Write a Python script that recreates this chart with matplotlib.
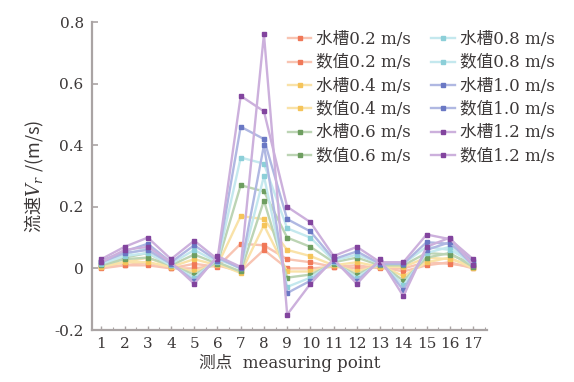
import matplotlib
matplotlib.use("Agg")
import matplotlib.pyplot as plt
from matplotlib.ticker import MultipleLocator

plt.rcParams['font.family'] = ['DejaVu Serif', 'Noto Sans CJK SC']
plt.rcParams['mathtext.fontset'] = 'custom'
plt.rcParams['mathtext.rm'] = 'Noto Sans CJK SC'
plt.rcParams['mathtext.it'] = 'DejaVu Serif:italic'
plt.rcParams['mathtext.bf'] = 'DejaVu Serif:bold'

points = list(range(1, 18))
x_ticklabels = [str(p) for p in points]
y_ticks = [-0.2, 0.0, 0.2, 0.4, 0.6, 0.8]
y_ticklabels = ["-0.2", "0", "0.2", "0.4", "0.6", "0.8"]

speeds = ["0.2", "0.4", "0.6", "0.8", "1.0", "1.2"]

# flume (水槽) measurements
flume_02 = [0.005, 0.01, 0.02, 0.0, 0.015, 0.005, 0.08, 0.075, 0.03, 0.02, 0.005, 0.01, 0.0, 0.0, 0.02, 0.015, 0.005]
flume_04 = [0.01, 0.02, 0.035, 0.005, 0.03, 0.01, 0.17, 0.16, 0.06, 0.04, 0.01, 0.02, 0.005, 0.005, 0.035, 0.03, 0.01]
flume_06 = [0.015, 0.035, 0.05, 0.01, 0.045, 0.015, 0.27, 0.25, 0.10, 0.07, 0.02, 0.035, 0.01, 0.01, 0.05, 0.045, 0.015]
flume_08 = [0.02, 0.045, 0.065, 0.015, 0.06, 0.02, 0.36, 0.34, 0.13, 0.10, 0.025, 0.045, 0.015, 0.015, 0.07, 0.06, 0.02]
flume_10 = [0.025, 0.055, 0.08, 0.02, 0.075, 0.025, 0.46, 0.42, 0.16, 0.12, 0.03, 0.055, 0.015, 0.015, 0.085, 0.08, 0.025]
flume_12 = [0.03, 0.07, 0.10, 0.03, 0.09, 0.03, 0.56, 0.51, 0.20, 0.15, 0.04, 0.07, 0.02, 0.02, 0.11, 0.095, 0.03]

# numerical (数值) results
num_02 = [0.0, 0.01, 0.01, 0.0, 0.0, 0.01, -0.01, 0.06, 0.0, 0.0, 0.005, 0.0, 0.005, -0.01, 0.01, 0.02, 0.0]
num_04 = [0.005, 0.02, 0.02, 0.005, -0.01, 0.015, -0.015, 0.14, -0.01, -0.01, 0.01, -0.01, 0.01, -0.025, 0.02, 0.035, 0.0]
num_06 = [0.01, 0.03, 0.035, 0.01, -0.02, 0.02, -0.01, 0.22, -0.03, -0.02, 0.015, -0.02, 0.015, -0.04, 0.035, 0.05, 0.005]
num_08 = [0.015, 0.04, 0.05, 0.01, -0.03, 0.03, 0.0, 0.30, -0.06, -0.03, 0.02, -0.03, 0.02, -0.055, 0.05, 0.07, 0.01]
num_10 = [0.02, 0.05, 0.06, 0.015, -0.04, 0.035, 0.0, 0.40, -0.08, -0.04, 0.025, -0.04, 0.025, -0.07, 0.06, 0.085, 0.01]
num_12 = [0.02, 0.06, 0.07, 0.02, -0.05, 0.04, 0.005, 0.76, -0.15, -0.05, 0.03, -0.05, 0.03, -0.09, 0.07, 0.10, 0.01]

flume = [flume_02, flume_04, flume_06, flume_08, flume_10, flume_12]
numer = [num_02, num_04, num_06, num_08, num_10, num_12]

marker_colors = ['#f07858', '#f5c45a', '#6e9e60', '#8ccfd8', '#6a78c4', '#82449e']
line_colors = ['#f8c4b2', '#f9e2a8', '#bcd4b4', '#c4e8ee', '#b0b8e2', '#ccb0dc']

fig = plt.figure(figsize=(5.74, 3.82), dpi=100)
ax = fig.add_axes([92/574, 52/382, (487-92)/574, (330-22)/382])

for i, s in enumerate(speeds):
    for kind, data in (("水槽", flume[i]), ("数值", numer[i])):
        ax.plot(points, data, color=line_colors[i], lw=1.7, marker='s', ms=3.2,
                mfc=marker_colors[i], mec=marker_colors[i], zorder=2 + i,
                label=f"{kind}{s} m/s")

ax.set_xlim(0.6, 17.6)
ax.set_ylim(-0.2, 0.8)
ax.set_xticks(points)
ax.set_xticklabels(x_ticklabels)
ax.xaxis.set_minor_locator(MultipleLocator(0.5))
ax.set_yticks(y_ticks)
ax.set_yticklabels(y_ticklabels)

for side in ('top', 'right'):
    ax.spines[side].set_visible(False)
for side in ('left', 'bottom'):
    ax.spines[side].set_color('#aaa4a4')
    ax.spines[side].set_linewidth(1.6)

tc = '#3c3838'
ax.tick_params(axis='both', which='both', direction='in', colors='#aaa4a4', labelcolor=tc)
ax.tick_params(axis='y', which='major', length=4, width=1.2, pad=6, labelsize=11)
ax.tick_params(axis='x', which='major', length=3, width=1.0, pad=5, labelsize=11)
ax.tick_params(axis='x', which='minor', length=2, width=0.8)

ax.set_xlabel("测点  measuring point", fontsize=12, color=tc, labelpad=2)
ax.set_ylabel(r"$\mathrm{流速}V_r\ \mathrm{/(m/s)}$", fontsize=13, color=tc, labelpad=6)

leg = ax.legend(ncol=2, loc='upper left', bbox_to_anchor=(288/574, 1 - 31/382),
                bbox_transform=fig.transFigure, frameon=False, fontsize=12,
                handlelength=1.4, handletextpad=0.3, columnspacing=1.2,
                labelspacing=0.38, borderpad=0, borderaxespad=0)
for t in leg.get_texts():
    t.set_color(tc)

fig.savefig("out.png", dpi=100, facecolor='white')
